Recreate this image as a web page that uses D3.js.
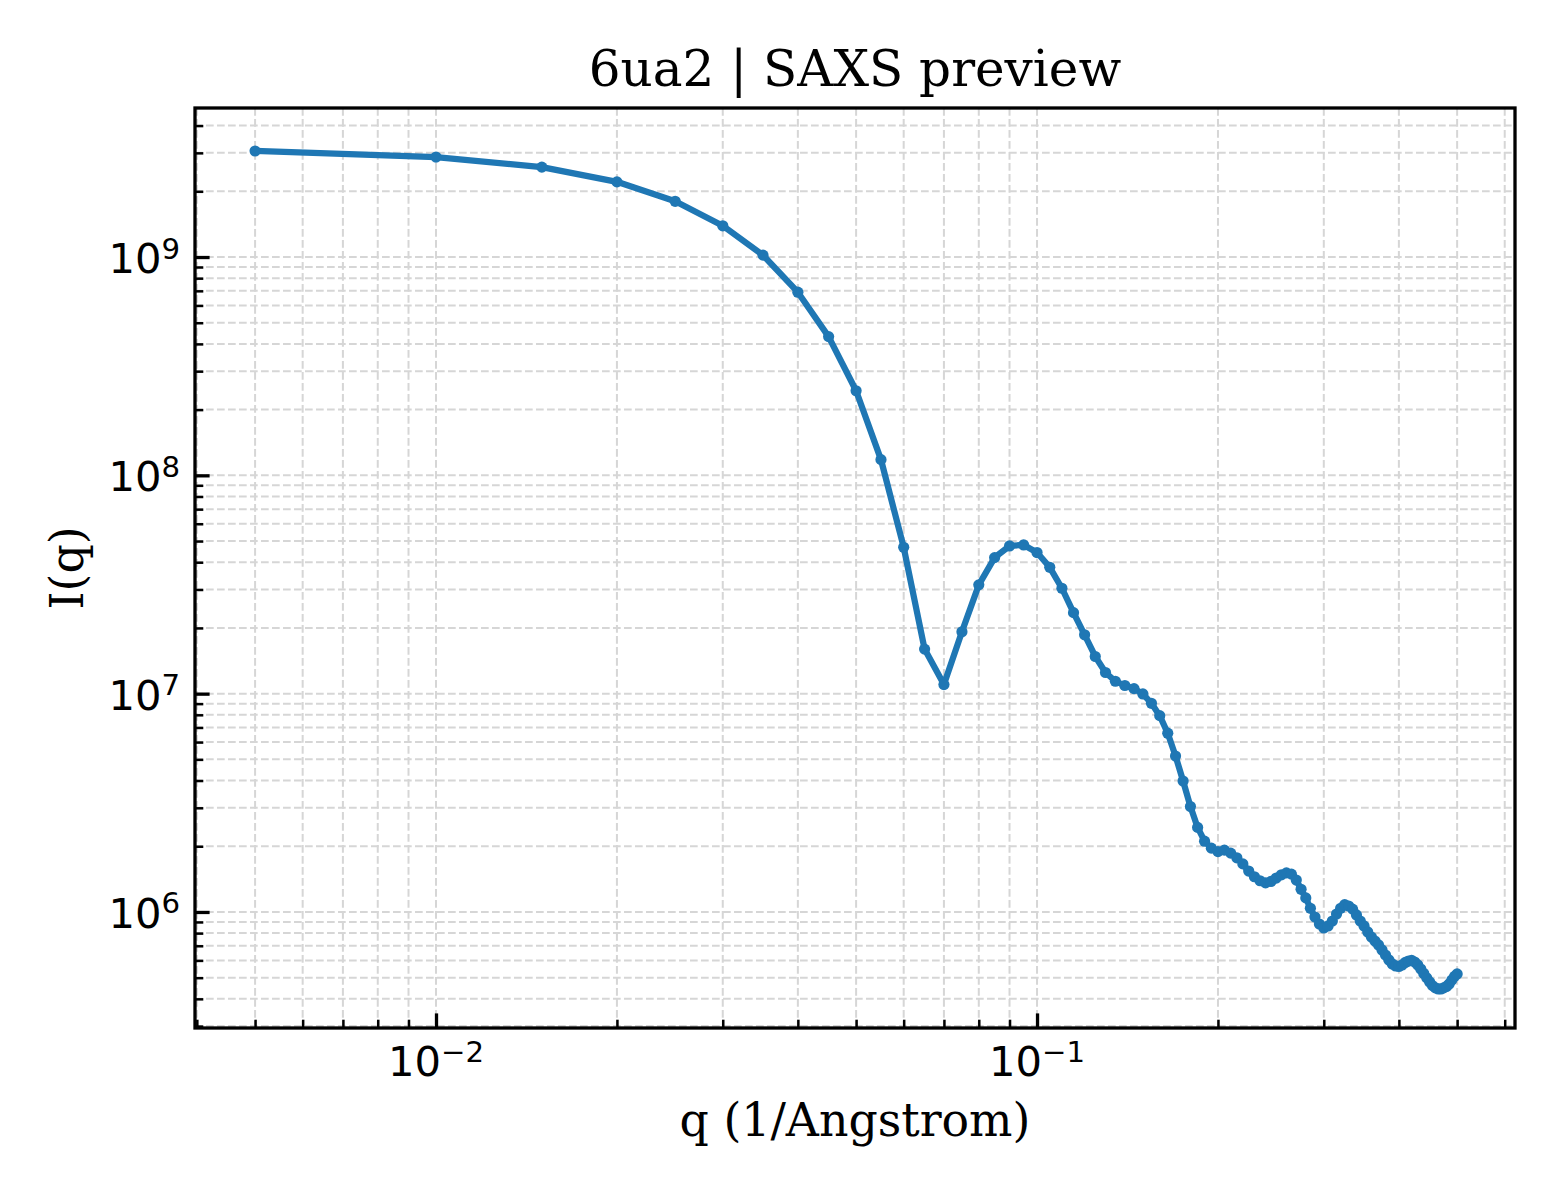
<!DOCTYPE html>
<html>
<head>
<meta charset="utf-8">
<script src="https://cdn.jsdelivr.net/npm/d3@7"></script>
<style>
  body { margin: 0; background: #fff; }
  svg { display: block; }
</style>
</head>
<body>
<svg></svg>
<script>
let svgWidth = 1560
let svgHeight = 1200

// scattering vector q (1/Angstrom)
let qValues = [
  0.005, 0.010, 0.015, 0.020, 0.025, 0.030, 0.035, 0.040, 0.045, 0.050,
  0.055, 0.060, 0.065, 0.070, 0.075, 0.080, 0.085, 0.090, 0.095, 0.100,
  0.105, 0.110, 0.115, 0.120, 0.125, 0.130, 0.135, 0.140, 0.145, 0.150,
  0.155, 0.160, 0.165, 0.170, 0.175, 0.180, 0.185, 0.190, 0.195, 0.200,
  0.205, 0.210, 0.215, 0.220, 0.225, 0.230, 0.235, 0.240, 0.245, 0.250,
  0.255, 0.260, 0.265, 0.270, 0.275, 0.280, 0.285, 0.290, 0.295, 0.300,
  0.305, 0.310, 0.315, 0.320, 0.325, 0.330, 0.335, 0.340, 0.345, 0.350,
  0.355, 0.360, 0.365, 0.370, 0.375, 0.380, 0.385, 0.390, 0.395, 0.400,
  0.405, 0.410, 0.415, 0.420, 0.425, 0.430, 0.435, 0.440, 0.445, 0.450,
  0.455, 0.460, 0.465, 0.470, 0.475, 0.480, 0.485, 0.490, 0.495, 0.500
]

// intensity I(q)
let intensity = [
  3.06e9, 2.87e9, 2.58e9, 2.21e9, 1.80e9, 1.39e9, 1.02e9, 6.90e8, 4.32e8, 2.44e8,
  1.18e8, 4.68e7, 1.60e7, 1.10e7, 1.92e7, 3.15e7, 4.20e7, 4.75e7, 4.80e7, 4.43e7,
  3.79e7, 3.04e7, 2.35e7, 1.86e7, 1.48e7, 1.25e7, 1.14e7, 1.09e7, 1.054e7, 9.97e6,
  9.03e6, 7.93e6, 6.59e6, 5.18e6, 3.98e6, 3.04e6, 2.44e6, 2.11e6, 1.96e6, 1.89e6,
  1.92e6, 1.86e6, 1.77e6, 1.66e6, 1.54e6, 1.45e6, 1.39e6, 1.36e6, 1.38e6, 1.43e6,
  1.48e6, 1.51e6, 1.49e6, 1.40e6, 1.27e6, 1.16e6, 1.04e6, 9.48e5, 8.81e5, 8.45e5,
  8.63e5, 9.09e5, 9.79e5, 1.04e6, 1.08e6, 1.065e6, 1.03e6, 9.69e5, 9.09e5, 8.63e5,
  8.10e5, 7.68e5, 7.36e5, 7.06e5, 6.70e5, 6.35e5, 6.03e5, 5.78e5, 5.66e5, 5.63e5,
  5.72e5, 5.87e5, 5.96e5, 6.00e5, 5.90e5, 5.72e5, 5.48e5, 5.23e5, 4.99e5, 4.78e5,
  4.60e5, 4.49e5, 4.44e5, 4.44e5, 4.49e5, 4.56e5, 4.68e5, 4.88e5, 5.07e5, 5.20e5
]

let xTickExponents = [-2, -1]
let yTickExponents = [6, 7, 8, 9]

let titleText = '6ua2 | SAXS preview'
let xLabelText = 'q (1/Angstrom)'
let yLabelText = 'I(q)'

let xDomain = [0.003972, 0.6241]
let yDomain = [2.941e5, 4.815e9]

let plotLeft = 195, plotRight = 1515, plotTop = 108, plotBottom = 1028
let lineColor = '#1f77b4'

let svg = d3.select('svg').attr('width', svgWidth).attr('height', svgHeight)

let xScale = d3.scaleLog().domain(xDomain).range([plotLeft, plotRight])
let yScale = d3.scaleLog().domain(yDomain).range([plotBottom, plotTop])

let isMajor = v => Math.abs(Math.log10(v) - Math.round(Math.log10(v))) < 1e-9
let xAll = xScale.ticks()
let yAll = yScale.ticks()
let xMinor = xAll.filter(v => !isMajor(v))
let yMinor = yAll.filter(v => !isMajor(v))
let xMajor = xTickExponents.map(e => Math.pow(10, e))
let yMajor = yTickExponents.map(e => Math.pow(10, e))

// grid, dashed, on every major and minor tick
let grid = svg.append('g').attr('class', 'grid')
  .attr('stroke', '#d6d6d6').attr('stroke-width', 2).attr('stroke-dasharray', '7.7,3.3')
grid.selectAll('line.gx').data(xAll).enter().append('line')
  .attr('x1', d => xScale(d)).attr('x2', d => xScale(d))
  .attr('y1', plotTop).attr('y2', plotBottom)
grid.selectAll('line.gy').data(yAll).enter().append('line')
  .attr('y1', d => yScale(d)).attr('y2', d => yScale(d))
  .attr('x1', plotLeft).attr('x2', plotRight)

let points = qValues.map((q, i) => [q, intensity[i]])

let line = d3.line().x(d => xScale(d[0])).y(d => yScale(d[1]))

svg.append('path')
  .datum(points)
  .attr('fill', 'none')
  .attr('stroke', lineColor)
  .attr('stroke-width', 6.25)
  .attr('stroke-linejoin', 'round')
  .attr('stroke-linecap', 'round')
  .attr('d', line)

svg.append('g').selectAll('circle')
  .data(points)
  .enter()
  .append('circle')
  .attr('cx', d => xScale(d[0]))
  .attr('cy', d => yScale(d[1]))
  .attr('r', 5.6)
  .attr('fill', lineColor)

// axes: inward ticks, labels added by hand for the superscripts
let xAxisMinor = d3.axisBottom(xScale).tickValues(xMinor).tickSize(-8.3).tickFormat('')
let xAxisMajor = d3.axisBottom(xScale).tickValues(xMajor).tickSize(-14.6).tickFormat('')
let yAxisMinor = d3.axisLeft(yScale).tickValues(yMinor).tickSize(-8.3).tickFormat('')
let yAxisMajor = d3.axisLeft(yScale).tickValues(yMajor).tickSize(-14.6).tickFormat('')

function styleAxis(g, width) {
  g.select('.domain').remove()
  g.selectAll('.tick line').attr('stroke', '#000').attr('stroke-width', width)
}

svg.append('g').attr('transform', 'translate(0,' + plotBottom + ')').call(xAxisMinor).call(g => styleAxis(g, 2.5))
svg.append('g').attr('transform', 'translate(0,' + plotBottom + ')').call(xAxisMajor).call(g => styleAxis(g, 3.3))
svg.append('g').attr('transform', 'translate(' + plotLeft + ',0)').call(yAxisMinor).call(g => styleAxis(g, 2.5))
svg.append('g').attr('transform', 'translate(' + plotLeft + ',0)').call(yAxisMajor).call(g => styleAxis(g, 3.3))

svg.append('rect')
  .attr('x', plotLeft).attr('y', plotTop)
  .attr('width', plotRight - plotLeft).attr('height', plotBottom - plotTop)
  .attr('fill', 'none').attr('stroke', '#000').attr('stroke-width', 3.3)

function powerLabel(sel, exp) {
  sel.append('tspan').text('10')
  sel.append('tspan')
    .attr('dy', -14.5)
    .attr('font-size', 29.2)
    .text(exp < 0 ? '\u2212' + (-exp) : '' + exp)
}

let tickFont = "'DejaVu Sans', sans-serif"
let labelFont = "'DejaVu Serif', serif"

xTickExponents.forEach(function(e) {
  svg.append('text')
    .attr('x', xScale(Math.pow(10, e)))
    .attr('y', plotBottom + 48)
    .attr('text-anchor', 'middle')
    .attr('font-family', tickFont)
    .attr('font-size', 41.7)
    .call(powerLabel, e)
})

yTickExponents.forEach(function(e) {
  svg.append('text')
    .attr('x', plotLeft - 15)
    .attr('y', yScale(Math.pow(10, e)) + 16)
    .attr('text-anchor', 'end')
    .attr('font-family', tickFont)
    .attr('font-size', 41.7)
    .call(powerLabel, e)
})

svg.append('text')
  .attr('x', (plotLeft + plotRight) / 2)
  .attr('y', 86)
  .attr('text-anchor', 'middle')
  .attr('font-family', labelFont)
  .attr('font-size', 50)
  .text(titleText)

svg.append('text')
  .attr('x', (plotLeft + plotRight) / 2)
  .attr('y', 1136)
  .attr('text-anchor', 'middle')
  .attr('font-family', labelFont)
  .attr('font-size', 45.8)
  .text(xLabelText)

svg.append('text')
  .attr('transform', 'translate(83,' + (plotTop + plotBottom) / 2 + ') rotate(-90)')
  .attr('text-anchor', 'middle')
  .attr('font-family', labelFont)
  .attr('font-size', 45.8)
  .text(yLabelText)
</script>
</body>
</html>
